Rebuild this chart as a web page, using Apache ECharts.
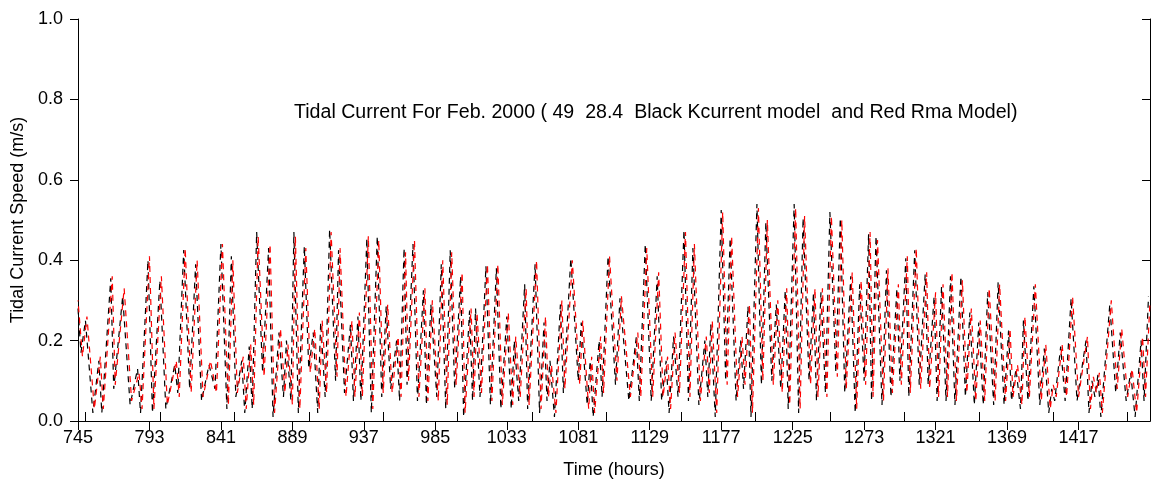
<!DOCTYPE html>
<html>
<head>
<meta charset="utf-8">
<script src="https://cdn.jsdelivr.net/npm/echarts@6/dist/echarts.min.js"></script>
<style>
html,body{margin:0;padding:0;background:#fff;}
#chart{width:1154px;height:489px;}
</style>
</head>
<body>
<div id="chart"></div>
<script>
// Tick labels (bottom axis) and unlabeled top-axis ticks
const xTickLabels = [745, 793, 841, 889, 937, 985, 1033, 1081, 1129, 1177, 1225, 1273, 1321, 1369, 1417];
const xTopTicks = [750, 800, 850, 900, 950, 1000, 1050, 1100, 1150, 1200, 1250, 1300, 1350, 1400, 1450];
const yTicks = [0, 0.2, 0.4, 0.6, 0.8, 1.0];

// Black: Kcurrent model (hour, speed m/s) read at peaks / slack
const kHours = [
745,747,750,755,759,761,767,769,775,780,785,787,792,795,800,804,810,812,816,820,
824,828,833,837,841,845,848,851,855,857,860,862,865,869,873,876,880,883,885,888,
890,893,897,900,903,906,908,911,914,918,920,924,928,930,933,935,939,942,946,949,
952,955,959,961,964,966,970,973,977,979,982,986,989,992,995,998,1002,1004,1008,1010,
1012,1015,1019,1022,1026,1029,1033,1036,1038,1041,1045,1047,1052,1055,1058,1060,1062,1065,1069,1071,
1076,1081,1083,1087,1089,1091,1095,1097,1101,1106,1109,1115,1120,1122,1126,1130,1134,1137,1140,1142,
1145,1148,1152,1155,1158,1162,1166,1168,1170,1173,1177,1180,1183,1187,1190,1192,1195,1197,1201,1204,
1207,1211,1214,1217,1220,1222,1226,1229,1232,1236,1239,1241,1244,1247,1250,1254,1257,1260,1264,1267,
1270,1273,1276,1278,1281,1285,1288,1291,1295,1297,1301,1303,1307,1310,1314,1316,1320,1322,1325,1328,
1331,1334,1338,1341,1344,1347,1350,1353,1356,1360,1363,1367,1370,1372,1375,1378,1380,1383,1387,1391,
1394,1397,1399,1401,1405,1408,1412,1416,1422,1424,1426,1428,1430,1432,1438,1442,1445,1449,1452,1455,
1459,1461,1464
];
const kSpeed = [
0.28,0.17,0.25,0.02,0.15,0.02,0.355,0.08,0.31,0.04,0.13,0.02,0.40,0.02,0.35,0.03,0.14,0.07,0.425,0.08,
0.39,0.05,0.14,0.08,0.44,0.03,0.41,0.06,0.15,0.02,0.185,0.03,0.47,0.12,0.43,0.01,0.22,0.06,0.20,0.05,
0.47,0.02,0.435,0.13,0.22,0.02,0.245,0.06,0.477,0.10,0.425,0.07,0.24,0.05,0.26,0.05,0.455,0.02,0.46,0.06,
0.285,0.08,0.20,0.05,0.43,0.09,0.44,0.05,0.325,0.04,0.29,0.06,0.39,0.03,0.425,0.08,0.36,0.01,0.275,0.05,
0.28,0.06,0.385,0.04,0.38,0.03,0.26,0.03,0.20,0.05,0.34,0.03,0.39,0.02,0.245,0.05,0.15,0.01,0.29,0.07,
0.405,0.10,0.245,0.04,0.15,0.01,0.20,0.06,0.41,0.09,0.305,0.05,0.21,0.05,0.44,0.05,0.36,0.05,0.15,0.02,
0.21,0.06,0.475,0.05,0.43,0.04,0.20,0.06,0.24,0.01,0.525,0.10,0.455,0.05,0.20,0.08,0.285,0.01,0.54,0.09,
0.495,0.10,0.29,0.08,0.325,0.03,0.54,0.02,0.505,0.10,0.32,0.05,0.32,0.07,0.52,0.12,0.505,0.07,0.36,0.02,
0.34,0.10,0.465,0.05,0.46,0.04,0.375,0.06,0.33,0.10,0.405,0.06,0.425,0.09,0.365,0.09,0.31,0.05,0.335,0.05,
0.36,0.04,0.36,0.06,0.27,0.04,0.245,0.04,0.32,0.04,0.345,0.04,0.225,0.05,0.13,0.03,0.25,0.05,0.335,0.04,
0.18,0.02,0.08,0.05,0.185,0.05,0.305,0.05,0.20,0.02,0.10,0.06,0.115,0.01,0.29,0.07,0.22,0.05,0.12,0.01,
0.20,0.05,0.31
];

// Red: Rma model (hour, speed m/s)
const rHours = [
745,748,751,756,760,762,768,770,776,781,786,788,793,796,801,805,811,813,817,821,
825,829,834,838,842,846,849,852,856,858,861,863,866,870,874,877,881,884,886,889,
891,894,898,901,904,907,909,912,915,919,921,925,929,931,934,936,940,943,947,950,
953,956,960,962,965,967,971,974,978,980,983,987,990,993,996,999,1003,1005,1009,1011,
1013,1016,1020,1023,1027,1030,1034,1037,1039,1042,1046,1048,1053,1056,1059,1061,1063,1066,1070,1072,
1077,1082,1084,1088,1090,1092,1096,1098,1102,1107,1110,1116,1121,1123,1127,1131,1135,1138,1141,1143,
1146,1149,1153,1156,1159,1163,1167,1169,1171,1174,1178,1181,1184,1188,1191,1193,1196,1198,1202,1205,
1208,1212,1215,1218,1221,1223,1227,1230,1233,1237,1240,1242,1245,1248,1251,1255,1258,1261,1265,1268,
1271,1274,1277,1279,1282,1286,1289,1292,1296,1298,1302,1304,1308,1311,1315,1317,1321,1323,1326,1329,
1332,1335,1339,1342,1345,1348,1351,1354,1357,1361,1364,1368,1371,1373,1376,1379,1381,1384,1388,1392,
1395,1398,1400,1402,1406,1409,1413,1417,1423,1425,1427,1429,1431,1433,1439,1443,1446,1450,1453,1456,
1460,1462,1465
];
const rSpeed = [
0.30,0.16,0.26,0.03,0.16,0.03,0.36,0.09,0.33,0.05,0.12,0.03,0.41,0.03,0.36,0.04,0.15,0.06,0.43,0.07,
0.40,0.06,0.15,0.07,0.44,0.04,0.40,0.07,0.16,0.03,0.19,0.04,0.46,0.11,0.44,0.02,0.23,0.07,0.19,0.04,
0.46,0.03,0.43,0.12,0.23,0.03,0.25,0.07,0.47,0.11,0.43,0.06,0.25,0.06,0.27,0.06,0.46,0.03,0.45,0.07,
0.29,0.07,0.21,0.06,0.42,0.10,0.45,0.06,0.33,0.05,0.30,0.05,0.40,0.04,0.42,0.09,0.37,0.02,0.28,0.06,
0.27,0.07,0.39,0.05,0.39,0.04,0.27,0.04,0.21,0.06,0.33,0.04,0.40,0.03,0.26,0.06,0.14,0.02,0.30,0.08,
0.40,0.09,0.25,0.03,0.16,0.02,0.21,0.07,0.41,0.10,0.31,0.06,0.22,0.06,0.43,0.06,0.37,0.06,0.16,0.03,
0.22,0.07,0.47,0.06,0.44,0.05,0.21,0.07,0.25,0.02,0.52,0.09,0.46,0.06,0.21,0.09,0.29,0.02,0.53,0.10,
0.50,0.09,0.30,0.07,0.33,0.04,0.53,0.03,0.51,0.09,0.33,0.06,0.33,0.06,0.51,0.11,0.50,0.08,0.37,0.03,
0.35,0.09,0.47,0.06,0.45,0.05,0.38,0.07,0.34,0.09,0.41,0.07,0.43,0.08,0.37,0.08,0.32,0.06,0.34,0.06,
0.37,0.05,0.35,0.07,0.28,0.05,0.25,0.05,0.33,0.05,0.34,0.05,0.23,0.06,0.14,0.04,0.26,0.06,0.34,0.05,
0.19,0.03,0.09,0.06,0.19,0.06,0.31,0.06,0.21,0.03,0.11,0.07,0.12,0.02,0.30,0.08,0.23,0.06,0.13,0.02,
0.21,0.06,0.30
];

const titleText = 'Tidal Current For Feb. 2000 ( 49  28.4  Black Kcurrent model  and Red Rma Model)';
const FONT = '"Liberation Sans", Arial, Helvetica, sans-serif';

const chart = echarts.init(document.getElementById('chart'), null, {renderer: 'canvas'});
const axisLine = {show: true, lineStyle: {color: '#000', width: 1}};

chart.setOption({
  animation: false,
  backgroundColor: '#fff',
  textStyle: {fontFamily: FONT},
  title: {
    text: titleText,
    left: 289, top: 98,
    textStyle: {fontFamily: FONT, fontSize: 19.6, fontWeight: 'normal', color: '#000'}
  },
  grid: {left: 78, right: 4, top: 19, bottom: 68, containLabel: false},
  xAxis: [
    {
      type: 'value', position: 'bottom', min: 745, max: 1465,
      name: 'Time (hours)', nameLocation: 'middle', nameGap: 40,
      nameTextStyle: {fontFamily: FONT, fontSize: 18, color: '#000'},
      axisLine: axisLine,
      axisTick: {show: true, inside: false, length: 9, customValues: xTickLabels, lineStyle: {color: '#000'}},
      axisLabel: {show: true, customValues: xTickLabels, margin: 8, fontFamily: FONT, fontSize: 18, color: '#000',
        formatter: v => String(v)},
      splitLine: {show: false}
    },
    {
      type: 'value', position: 'top', min: 745, max: 1465,
      axisLine: axisLine,
      axisTick: {show: true, inside: false, length: 9, customValues: xTopTicks, lineStyle: {color: '#000'}},
      axisLabel: {show: false},
      splitLine: {show: false}
    }
  ],
  yAxis: [
    {
      type: 'value', position: 'left', min: 0, max: 1, interval: 0.2,
      name: 'Tidal Current Speed (m/s)', nameLocation: 'middle', nameGap: 51,
      nameTextStyle: {fontFamily: FONT, fontSize: 18, color: '#000'},
      axisLine: axisLine,
      axisTick: {show: true, inside: false, length: 8, lineStyle: {color: '#000'}},
      axisLabel: {show: true, margin: 15, fontFamily: FONT, fontSize: 18, color: '#000',
        formatter: v => v.toFixed(1)},
      splitLine: {show: false}
    },
    {
      type: 'value', position: 'right', min: 0, max: 1, interval: 0.2,
      axisLine: axisLine,
      axisTick: {show: true, inside: true, length: 8, lineStyle: {color: '#000'}},
      axisLabel: {show: false},
      splitLine: {show: false}
    }
  ],
  series: [
    {
      name: 'Kcurrent', type: 'line', xAxisIndex: 0, yAxisIndex: 0,
      data: kHours.map((h, i) => [h, kSpeed[i]]),
      symbol: 'none', clip: true,
      lineStyle: {color: '#000', width: 1.2, type: [6, 5]}
    },
    {
      name: 'Rma', type: 'line', xAxisIndex: 0, yAxisIndex: 0,
      data: rHours.map((h, i) => [h, rSpeed[i]]),
      symbol: 'none', clip: true,
      lineStyle: {color: '#ff0000', width: 1.2, type: [6, 5], dashOffset: 5}
    }
  ]
});
</script>
</body>
</html>
